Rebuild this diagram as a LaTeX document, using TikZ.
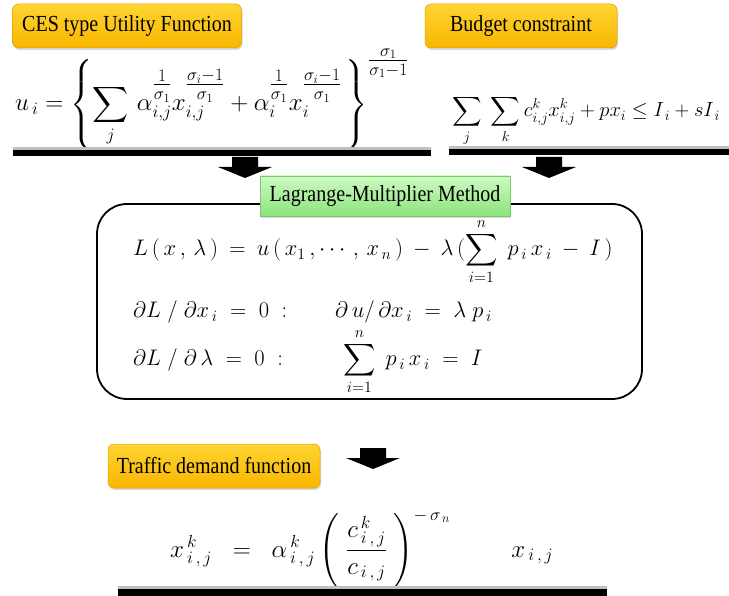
\RequirePackage{fix-cm}
\documentclass[tikz,border=0pt]{standalone}
\usepackage{amsmath, amssymb}
\usepackage{fontspec}
\usepackage{tikz}
\usetikzlibrary{calc, positioning, shadows}
\setmainfont{Liberation Serif}
\newfontfamily\labfont{Liberation Serif}[FakeStretch=0.87]
\definecolor{goldTop}{RGB}{255, 212, 50}
\definecolor{goldBot}{RGB}{248, 182, 0}
\definecolor{goldEdge}{RGB}{225, 160, 0}
\definecolor{greenTop}{RGB}{205, 250, 195}
\definecolor{greenBot}{RGB}{140, 228, 125}
\definecolor{greenEdge}{RGB}{120, 200, 110}
% block arrow pointing down, top middle at #1
\newcommand{\blockarrow}[1]{%
  \fill ($(#1)+(-13,0)$) -- ++(26,0) -- ++(0,10) -- ++(14,0)
    -- ($(#1)+(0,21)$) -- ($(#1)+(-27,10)$) -- ++(14,0) -- cycle;}

\begin{document}
\begin{tikzpicture}[x=1pt, y=-1pt,
  goldlabel/.style={rounded corners=6pt, top color=goldTop, bottom color=goldBot,
    draw=goldEdge, line width=0.5pt, minimum height=44pt,
    drop shadow={opacity=0.3, shadow xshift=1pt, shadow yshift=-2pt},
    font=\labfont\fontsize{23}{27}\selectfont},
  greenlabel/.style={top color=greenTop, bottom color=greenBot, draw=greenEdge,
    line width=0.5pt, minimum height=40pt,
    drop shadow={opacity=0.3, shadow xshift=1pt, shadow yshift=-2pt},
    font=\labfont\fontsize{23}{27}\selectfont},
  bar/.style={fill=black}]
  \useasboundingbox (0,0) rectangle (729,596);

  % headings
  \node[goldlabel, minimum width=229pt] (ces) at (127,26) {CES type Utility Function};
  \node[goldlabel, minimum width=192pt] (budget) at (521,26) {Budget constraint};

  % utility function
  \node[anchor=base west, inner sep=0pt, font=\fontsize{25}{29}\selectfont] (util) at (15,111)
    {$u_{\,i}=\left\{\displaystyle\sum_{j}\,\alpha_{i,j}^{\textstyle\frac{1}{\sigma_1}}
      x_{i,j}^{\textstyle\frac{\sigma_i-1}{\sigma_1}}+\alpha_{i}^{\textstyle\frac{1}{\sigma_1}}
      x_{i}^{\textstyle\frac{\sigma_i-1}{\sigma_1}}\,\right\}^{\textstyle\frac{\sigma_1}{\sigma_1-1}}$};

  % budget constraint
  \node[anchor=base west, inner sep=0pt, font=\fontsize{20.5}{24}\selectfont] (bc) at (452,117)
    {$\displaystyle\sum_{j}\;\sum_{k}c_{i,j}^{k}x_{i,j}^{k}+px_{i}\le I_{\,i}+sI_{\,i}$};

  \fill[black!25] (13,147) rectangle (431,150);
  \fill[bar] (13,150) rectangle (431,156);
  \fill[black!25] (449,146) rectangle (729,149);
  \fill[bar] (449,149) rectangle (729,155);

  \coordinate (arrL) at (245,157);
  \coordinate (arrR) at (549,157);
  \blockarrow{arrL}
  \blockarrow{arrR}

  % Lagrange box
  \draw[line width=1.8pt, rounded corners=30pt] (97,204) rectangle (642,399);
  \node[greenlabel, minimum width=250pt] (lag) at (385,196) {Lagrange-Multiplier Method};

  \node[anchor=base west, inner sep=0pt, font=\fontsize{22.5}{27}\selectfont] (lag1) at (133,256)
    {$L\,(\,x\,,\,\lambda\,)\:=\:u\,(\,x_1\,,\cdots\,,\,x_{\,n}\,)\:-\:\lambda\,(\displaystyle\sum_{i=1}^{n}\;p_{\,i}\,x_{\,i}\:-\:I\,)$};
  \node[anchor=base west, inner sep=0pt, font=\fontsize{22.5}{27}\selectfont] (lag2) at (133,318)
    {$\partial L\;/\;\partial x_{\,i}\;=\;0\;:$};
  \node[anchor=base west, inner sep=0pt, font=\fontsize{22.5}{27}\selectfont] (foc1) at (335,318)
    {$\partial\, u/\,\partial x_{\,i}\;=\;\lambda\;p_{\,i}$};
  \node[anchor=base west, inner sep=0pt, font=\fontsize{22.5}{27}\selectfont] (lag3) at (133,366)
    {$\partial L\;/\;\partial\,\lambda\;=\;0\;:$};
  \node[anchor=base west, inner sep=0pt, font=\fontsize{22.5}{27}\selectfont] (foc2) at (343,366)
    {$\displaystyle\sum_{i=1}^{n}\;p_{\,i}\,x_{\,i}\;=\;I$};

  % traffic demand
  \node[goldlabel, minimum width=212pt] (demand) at (214,466) {Traffic demand function};
  \coordinate (arrB) at (373,448);
  \blockarrow{arrB}

  \node[anchor=base west, inner sep=0pt, font=\fontsize{25}{29}\selectfont] (xd) at (170,557)
    {$x^{\,k}_{\,i\,,\,j}\;\;=\;\;\alpha^{\,k}_{\,i\,,\,j}\left(\;\dfrac{c^{\,k}_{\,i\,,\,j}}{c_{\,i\,,\,j}}\;\right)^{-\,\sigma_{\,n}}\qquad\; x_{\,i\,,\,j}$};

  \fill[black!25] (118,586) rectangle (607,589);
  \fill[bar] (118,589) rectangle (607,596);
\end{tikzpicture}
\end{document}
